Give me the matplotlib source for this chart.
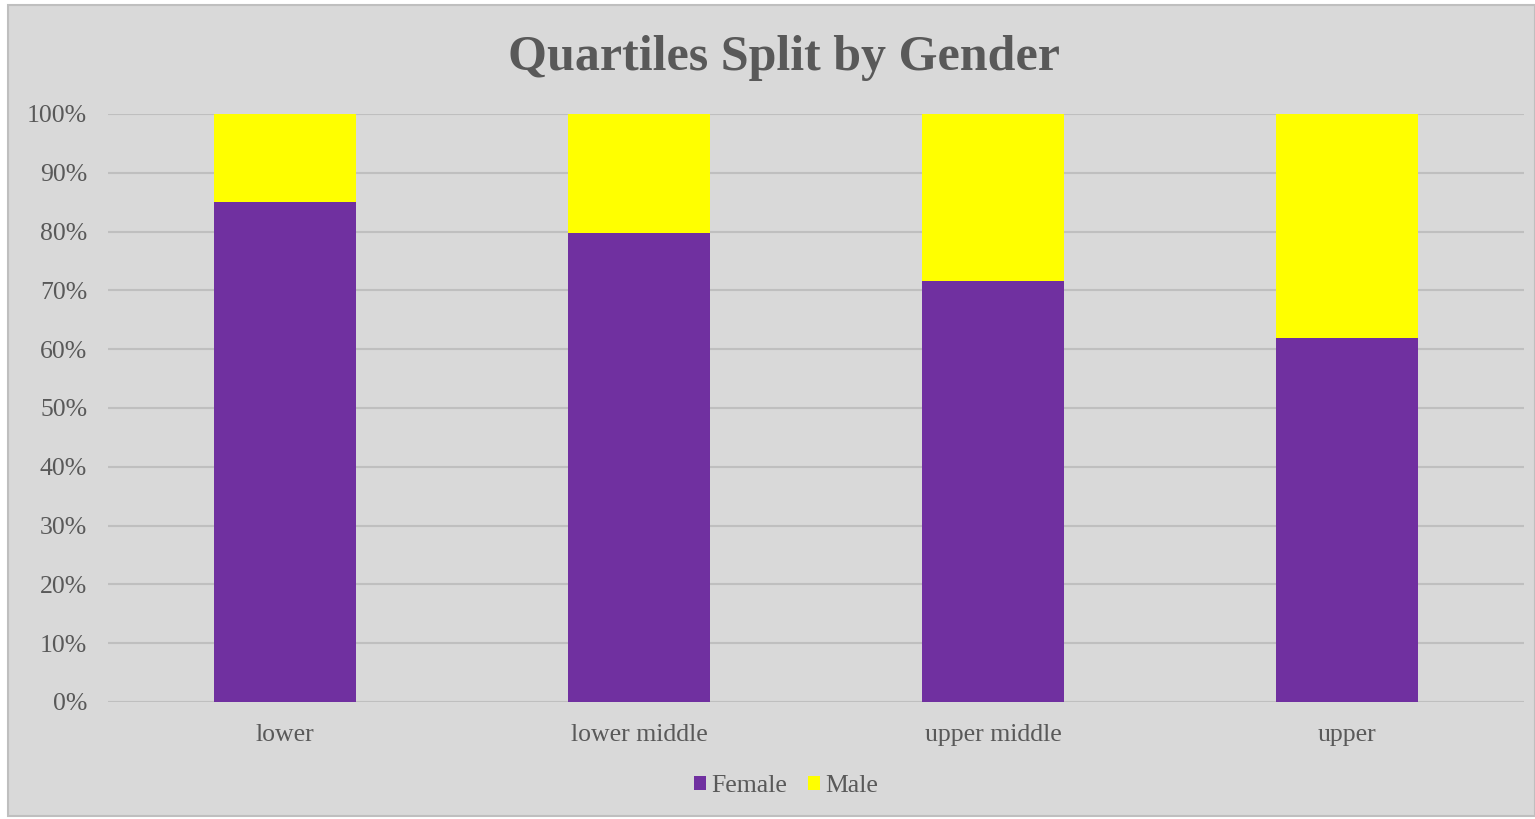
import matplotlib
matplotlib.use("Agg")
import matplotlib.pyplot as plt
from matplotlib.patches import Rectangle
from matplotlib.ticker import PercentFormatter

# data
categories = ["lower", "lower middle", "upper middle", "upper"]
female = [85.0, 79.8, 71.6, 61.9]
male = [100 - v for v in female]

plt.rcParams['font.family'] = ['Liberation Serif', 'DejaVu Serif']

fig = plt.figure(figsize=(15.35, 8.19), dpi=100)
fig.patch.set_facecolor("white")
# chart area background with border
bg = Rectangle((8 / 1535, 3 / 819), 1 - 8 / 1535, 1 - 8 / 819,
               transform=fig.transFigure, facecolor="#D9D9D9",
               edgecolor="#BFBFBF", linewidth=1.5, zorder=-10)
fig.add_artist(bg)

ax = fig.add_axes([108 / 1535, 117 / 819, 1416 / 1535, 588 / 819])
ax.set_zorder(1)
ax.set_facecolor("none")

x = range(len(categories))
ax.bar(x, female, width=0.4, color="#7030A0", label="Female", zorder=3)
ax.bar(x, male, width=0.4, bottom=female, color="#FFFF00", label="Male", zorder=3)

ax.set_xlim(-0.5, 3.5)
ax.set_ylim(0, 100)
ax.set_yticks(range(0, 101, 10))
ax.yaxis.set_major_formatter(PercentFormatter(decimals=0))
ax.set_xticks(list(x))
ax.set_xticklabels(categories)
ax.grid(axis="y", color="#BFBFBF", linewidth=1.5, zorder=0)
ax.tick_params(axis="both", length=0, labelsize=18.5, labelcolor="#595959")
ax.tick_params(axis="x", pad=16)
ax.tick_params(axis="y", pad=15)
for s in ax.spines.values():
    s.set_visible(False)

fig.text(0.511, 0.929, "Quartiles Split by Gender", ha="center", va="center",
         fontsize=36, fontweight="bold", color="#595959", zorder=5)

leg = ax.legend(loc="center", bbox_to_anchor=(0.479, -0.143), ncol=2, frameon=False,
                fontsize=18.5, handlelength=0.47, handleheight=0.47, handletextpad=0.2,
                columnspacing=0.8, labelcolor="#595959")

fig.savefig("out.png", dpi=100, facecolor=fig.get_facecolor())
